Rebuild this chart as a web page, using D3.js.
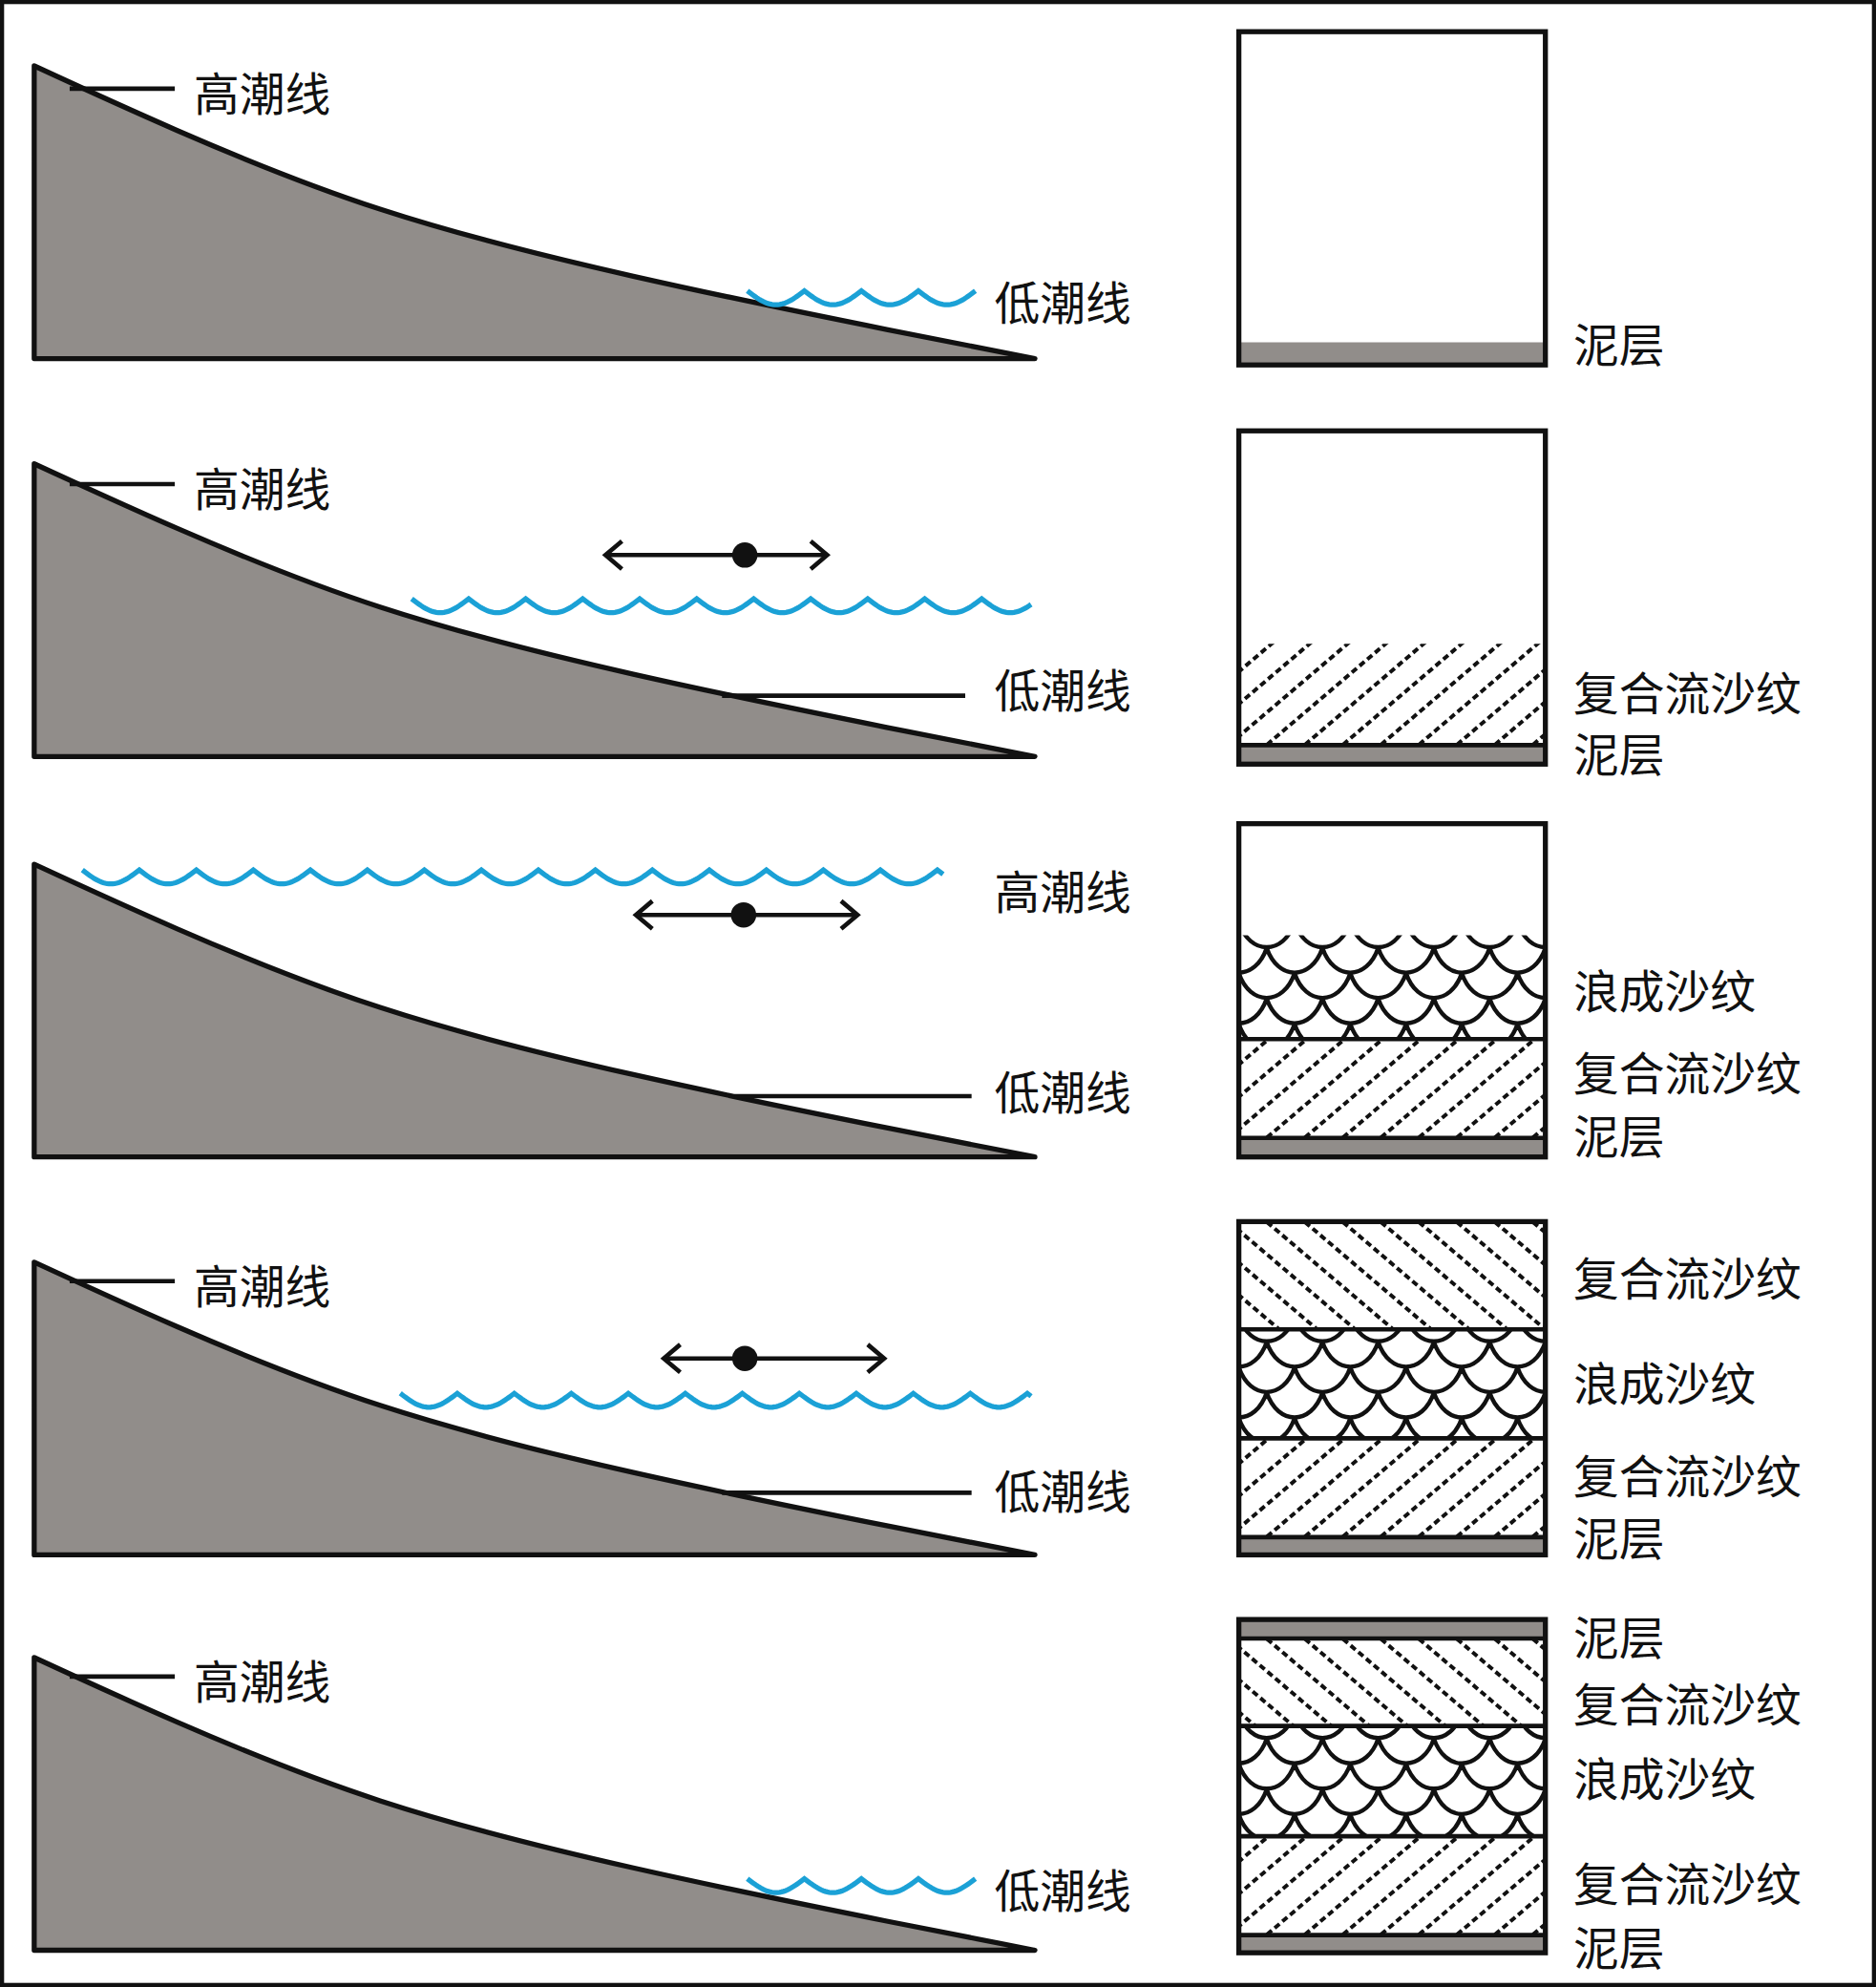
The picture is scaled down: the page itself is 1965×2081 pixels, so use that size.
<!DOCTYPE html>
<html><head><meta charset="utf-8">
<script src="https://cdn.jsdelivr.net/npm/d3@7"></script>
<style>body{margin:0;background:#fff}svg{display:block}</style>
</head><body>
<svg id="c" width="1965" height="2081"></svg>
<script>
// reference units (1481 x 1568)
const slopeProfile = [[27,52],[140,103],[300,165],[500,218],[700,260],[817,283]];
const panelOffsets = [0,314,630,944,1256];
const highTideLabel = [70,382,null,1011,1323];
const highTideWater = [null,null,{tx:785,ty:702},null,null];
const lowTideLine = [null,{x0:570,x1:762,y:549},{x0:580,x1:767,y:865},{x0:570,x1:767,y:1178},null];
const lowTideText = [237,543,860,1175,1490];
const waves = [{x0:590,x1:770,y:235},{x0:325,x1:815,y:478},{x0:65,x1:745,y:692},{x0:316,x1:815,y:1105},{x0:590,x1:770,y:1488}];
const arrows = [null,{x0:478,x1:653,y:438,dot:588},{x0:502,x1:677,y:722,dot:587},{x0:524,x1:698,y:1072,dot:588},null];
const boxes = [[25,288],[340,603],[650,913],[964,1227],[1278,1541]];
const layers = [
 [["mud",270,288]],
 [["crossR",508,588],["mud",588,603]],
 [["wave",738,820],["crossR",820,898],["mud",898,913]],
 [["crossL",964,1049],["wave",1049,1135],["crossR",1135,1213],["mud",1213,1227]],
 [["mud",1278,1293],["crossL",1293,1362],["wave",1362,1449],["crossR",1449,1527],["mud",1527,1541]]
];
const layerLabels = [
 [["泥层",270]],
 [["复合流沙纹",545],["泥层",593]],
 [["浪成沙纹",780],["复合流沙纹",845],["泥层",895]],
 [["复合流沙纹",1007],["浪成沙纹",1090],["复合流沙纹",1163],["泥层",1212]],
 [["泥层",1290],["复合流沙纹",1343],["浪成沙纹",1402],["复合流沙纹",1485],["泥层",1535]]
];
const boxX = [978,1220];

const X = d3.scaleLinear().domain([0,1481]).range([0,1965]);
const Y = d3.scaleLinear().domain([0,1568]).range([0,2081]);
const S = 1965/1481;
const svg = d3.select("#c");
const defs = svg.append("defs");
const FONT = "'Noto Sans CJK SC','Noto Sans',sans-serif";
const blue = "#1ba1d6", gray = "#918d8a";

svg.append("rect").attr("x",X(1.5)).attr("y",Y(1.5)).attr("width",X(1478)).attr("height",Y(1565))
  .attr("fill","none").attr("stroke","#111").attr("stroke-width",3.5*S);

const line = d3.line().x(d=>X(d[0])).y(d=>Y(d[1])).curve(d3.curveNatural);
function wavePath(w){
  const pts=[]; const per=45, amp=11;
  for(let x=w.x0;x<=w.x1;x+=1.5){pts.push([x, w.y - amp/2 + amp*Math.abs(Math.sin((x-w.x0)/per*Math.PI))]);}
  return d3.line().x(d=>X(d[0])).y(d=>Y(d[1]))(pts);
}
function text(g,t,x,y){g.append("text").attr("x",X(x)).attr("y",Y(y)).attr("dominant-baseline","central")
  .attr("font-family",FONT).attr("font-size",36*S).attr("fill","#111").text(t);}

panelOffsets.forEach((off,i)=>{
  const g = svg.append("g");
  const prof = slopeProfile.map(p=>[p[0],p[1]+off]);
  const last = prof[prof.length-1];
  const area = line(prof) + `L${X(27)},${Y(last[1])}Z`;
  g.append("path").attr("d",area).attr("fill",gray).attr("stroke","#111").attr("stroke-width",4*S).attr("stroke-linejoin","round");
  if(highTideLabel[i]!==null){
    const y = highTideLabel[i];
    g.append("line").attr("x1",X(55)).attr("x2",X(138)).attr("y1",Y(y)).attr("y2",Y(y)).attr("stroke","#111").attr("stroke-width",3.5*S);
    text(g,"高潮线",153,y+2);
  }
  if(highTideWater[i]) text(g,"高潮线",highTideWater[i].tx,highTideWater[i].ty);
  if(lowTideLine[i]){const l=lowTideLine[i];
    g.append("line").attr("x1",X(l.x0)).attr("x2",X(l.x1)).attr("y1",Y(l.y)).attr("y2",Y(l.y)).attr("stroke","#111").attr("stroke-width",3.5*S);}
  text(g,"低潮线",785,lowTideText[i]);
  g.append("path").attr("d",wavePath(waves[i])).attr("fill","none").attr("stroke",blue).attr("stroke-width",4*S);
  if(arrows[i]){const a=arrows[i];
    g.append("line").attr("x1",X(a.x0+2)).attr("x2",X(a.x1-2)).attr("y1",Y(a.y)).attr("y2",Y(a.y)).attr("stroke","#111").attr("stroke-width",3.5*S);
    [[a.x0,1],[a.x1,-1]].forEach(([x,d])=>{
      g.append("path").attr("d",`M${X(x+d*13)},${Y(a.y-11)}L${X(x)},${Y(a.y)}L${X(x+d*13)},${Y(a.y+11)}`)
       .attr("fill","none").attr("stroke","#111").attr("stroke-width",3.5*S);
    });
    g.append("circle").attr("cx",X(a.dot)).attr("cy",Y(a.y)).attr("r",10*S).attr("fill","#111");
  }
  const [bt,bb]=boxes[i];
  layers[i].forEach((L,j)=>{
    const [type,t,b]=L;
    const id=`cl${i}_${j}`;
    defs.append("clipPath").attr("id",id).append("rect").attr("x",X(boxX[0])).attr("y",Y(t)).attr("width",X(boxX[1]-boxX[0])).attr("height",Y(b-t));
    const lg=g.append("g").attr("clip-path",`url(#${id})`);
    if(type==="mud"){
      lg.append("rect").attr("x",X(boxX[0])).attr("y",Y(t)).attr("width",X(boxX[1]-boxX[0])).attr("height",Y(b-t)).attr("fill",gray);
    } else if(type==="wave"){
      const per=44, dep=26, rowH=20;
      for(let r=0, y=t-10; y<b+dep; y+=rowH, r++){
        let s="";
        const sh = (r%2)*per/2;
        for(let x=boxX[0]-per+sh; x<boxX[1]+per; x+=per){
          s+=`M${X(x)},${Y(y)}C${X(x+per*0.2)},${Y(y+dep)} ${X(x+per*0.8)},${Y(y+dep)} ${X(x+per)},${Y(y)}`;
        }
        lg.append("path").attr("d",s).attr("fill","none").attr("stroke","#111").attr("stroke-width",3.3*S);
      }
    } else {
      const dir = type==="crossR"?1:-1, sp=30, k=0.85;
      let s="";
      for(let x=boxX[0]-200; x<boxX[1]+200; x+=sp){
        const h=b-t+20;
        if(dir===1) s+=`M${X(x)},${Y(b+10)}L${X(x+h/k)},${Y(b+10-h)}`;
        else s+=`M${X(x)},${Y(t-10)}L${X(x+h/k)},${Y(t-10+h)}`;
      }
      lg.append("path").attr("d",s).attr("fill","none").attr("stroke","#111").attr("stroke-width",3*S).attr("stroke-dasharray",`${5*S},${3*S}`);
    }
    if(j>0) g.append("line").attr("x1",X(boxX[0])).attr("x2",X(boxX[1])).attr("y1",Y(t)).attr("y2",Y(t)).attr("stroke","#111").attr("stroke-width",3.5*S);
  });
  g.append("rect").attr("x",X(boxX[0])).attr("y",Y(bt)).attr("width",X(boxX[1]-boxX[0])).attr("height",Y(bb-bt))
    .attr("fill","none").attr("stroke","#111").attr("stroke-width",4*S);
  layerLabels[i].forEach(([t,y])=>text(g,t,1242,y));
});
</script>
</body></html>
